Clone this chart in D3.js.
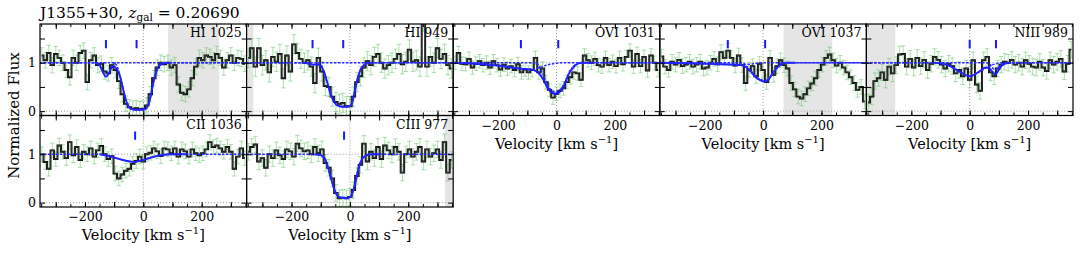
<!DOCTYPE html>
<html>
<head>
<meta charset="utf-8">
<script src="https://cdn.jsdelivr.net/npm/d3@7"></script>
<style>
  body { margin: 0; background: #fff; }
  svg { display: block; font-family: "DejaVu Serif", serif; }
</style>
</head>
<body>
<svg id="chart" width="1080" height="253"></svg>
<script>
// pixel centres of the spectra, km/s
const velocity = [-348,-336,-324,-312,-300,-288,-276,-264,-252,-240,-228,-216,-204,-192,-180,-168,-156,-144,-132,-120,
  -108,-96,-84,-72,-60,-48,-36,-24,-12,0,12,24,36,48,60,72,84,96,108,120,132,144,156,168,180,192,204,216,228,240,
  252,264,276,288,300,312,324,336,348];

const fluxHI1025 = [1.15,1.05,1.2,0.95,1.18,1.1,1.0,0.85,0.7,1.1,1.0,1.2,1.25,0.6,1.05,1.15,0.95,0.98,0.82,0.78,
  0.95,0.85,0.62,0.35,0.15,0.08,0.05,0.06,0.04,0.05,0.12,0.35,0.68,0.9,1.0,0.97,1.0,0.9,0.95,0.55,
  0.38,0.35,0.45,0.68,0.92,1.1,1.05,1.15,1.12,1.05,1.18,1.1,0.9,1.05,1.15,1.0,1.1,1.08,0.98];
const fluxHI949 = [1.1,1.3,0.92,1.3,0.95,1.05,0.8,1.12,1.02,1.18,0.68,1.15,0.82,1.38,1.2,1.08,1.0,1.05,0.92,0.58,
  1.1,0.82,0.52,0.5,0.3,0.19,0.15,0.17,0.1,0.1,0.3,0.6,0.72,0.9,1.03,0.95,1.12,1.18,1.0,0.88,
  0.95,1.0,1.08,1.18,0.97,1.02,1.27,1.02,1.05,0.92,1.85,0.92,1.12,1.0,1.3,1.08,1.18,0.95,0.88];
const fluxOVI1031 = [1.0,1.2,0.98,0.97,1.08,0.9,0.98,1.03,0.95,1.0,0.9,1.03,0.95,0.86,0.96,0.88,0.93,0.85,0.97,0.8,
  0.86,0.8,0.85,1.1,0.8,0.88,0.6,0.44,0.28,0.36,0.42,0.47,0.6,0.7,0.8,0.78,0.65,1.15,1.05,1.0,
  1.08,0.95,0.92,1.1,0.95,1.02,0.93,1.1,0.97,1.12,1.25,0.92,1.18,0.93,1.12,0.84,1.15,1.0,0.85];
const fluxOVI1037 = [1.13,0.92,0.85,1.02,0.96,1.06,0.93,0.96,1.02,0.92,0.96,1.02,0.88,0.9,1.0,1.08,0.97,1.22,1.1,1.25,
  1.1,0.94,1.15,0.95,0.58,0.85,0.93,0.72,0.98,0.85,0.6,1.1,0.75,0.93,1.05,0.95,0.88,0.58,0.45,0.3,
  0.26,0.35,0.47,0.57,0.68,0.85,0.96,1.1,1.17,1.05,0.94,1.0,0.9,0.8,0.7,0.58,0.44,0.5,0.2];
const fluxNIII989 = [0.18,0.3,0.62,0.68,0.8,0.65,0.92,0.78,0.95,1.17,1.18,0.92,1.08,0.9,1.1,0.93,1.06,0.85,0.98,1.12,
  1.06,0.96,0.88,0.98,0.93,0.78,0.85,0.72,0.88,0.65,1.05,0.55,0.42,1.05,1.12,0.8,0.72,0.88,0.96,1.02,
  1.0,1.06,0.96,1.0,0.92,1.05,0.98,0.92,0.9,1.02,0.9,0.83,1.05,0.96,1.02,1.08,0.82,0.98,1.27];
const fluxCII1036 = [1.0,0.84,0.7,1.08,0.9,1.18,1.05,0.92,1.25,0.98,1.15,0.88,1.05,1.0,1.12,0.95,1.08,1.17,1.0,0.9,
  0.96,0.6,0.5,0.58,0.66,0.7,0.8,0.86,0.95,0.85,1.0,1.03,1.12,1.06,0.96,1.12,1.1,1.02,1.12,0.95,
  1.1,1.06,0.95,1.1,1.02,0.98,1.02,1.1,1.25,1.15,1.18,1.12,1.05,1.15,1.05,0.7,0.95,1.12,0.92];
const fluxCIII977 = [1.05,1.15,1.2,0.85,0.92,0.72,1.0,0.92,1.08,0.98,0.9,1.1,1.06,0.95,1.22,1.12,1.06,1.08,1.0,1.15,
  1.02,1.1,0.82,0.72,0.5,0.2,0.09,0.1,0.09,0.12,0.26,0.55,0.78,1.22,0.85,1.05,0.92,1.15,0.9,1.18,
  1.08,1.0,1.15,1.05,0.62,1.0,1.1,0.95,1.05,1.15,0.85,1.1,0.95,1.02,1.1,0.88,1.25,0.62,0.88];

// typical 1-sigma error per spectrum
const errHI1025 = 0.16, errHI949 = 0.2, errOVI1031 = 0.14, errOVI1037 = 0.15,
      errNIII989 = 0.17, errCII1036 = 0.15, errCIII977 = 0.17;

// total fit (solid) and single components (dashed), [velocity, flux]
const modelHI1025 = [[-165,1],[-150,0.95],[-138,0.8],[-128,0.71],[-118,0.78],[-108,0.9],[-100,0.92],[-90,0.86],
  [-78,0.68],[-65,0.35],[-55,0.15],[-45,0.06],[-30,0.03],[-10,0.03],[5,0.04],[15,0.1],[25,0.3],[35,0.6],
  [45,0.82],[55,0.94],[70,0.99],[90,1]];
const compHI1025a = [[-355,1],[-165,1],[-150,0.95],[-138,0.8],[-128,0.72],[-118,0.8],[-106,0.95],[-92,1],[355,1]];
const compHI1025b = [[-355,1],[-100,1],[-88,0.9],[-78,0.7],[-65,0.35],[-55,0.15],[-45,0.06],[-30,0.03],[-10,0.03],
  [5,0.04],[15,0.1],[25,0.3],[35,0.6],[45,0.82],[55,0.94],[70,0.99],[90,1],[355,1]];

const modelHI949 = [[-155,1],[-140,0.98],[-126,0.96],[-112,0.96],[-100,0.93],[-88,0.8],[-78,0.6],[-63,0.3],
  [-48,0.14],[-35,0.1],[-20,0.09],[-8,0.09],[2,0.12],[8,0.18],[17,0.42],[26,0.66],[36,0.85],[48,0.95],[60,0.99],[75,1]];
const compHI949a = [[-355,1],[-160,1],[-140,0.98],[-126,0.96],[-112,0.98],[-95,1],[355,1]];
const compHI949b = [[-355,1],[-110,1],[-98,0.95],[-88,0.8],[-78,0.6],[-63,0.3],[-48,0.14],[-35,0.1],[-20,0.09],
  [-8,0.09],[2,0.12],[8,0.18],[17,0.42],[26,0.66],[36,0.85],[48,0.95],[60,0.99],[75,1],[355,1]];

const modelOVI1031 = [[-355,1],[-300,0.99],[-250,0.97],[-200,0.94],[-150,0.9],[-110,0.87],[-90,0.86],[-75,0.84],
  [-57,0.76],[-45,0.65],[-34,0.52],[-20,0.4],[-5,0.36],[5,0.37],[15,0.43],[25,0.52],[34,0.65],[45,0.8],
  [57,0.9],[70,0.97],[85,1],[120,1]];
const compOVI1031a = [[-355,1],[-300,0.99],[-250,0.97],[-200,0.94],[-150,0.9],[-110,0.87],[-80,0.87],[-60,0.9],
  [-40,0.94],[-20,0.97],[0,0.99],[20,1],[355,1]];
const compOVI1031b = [[-355,1],[-70,1],[-55,0.87],[-45,0.75],[-34,0.58],[-20,0.45],[-5,0.4],[5,0.41],[15,0.46],
  [25,0.56],[34,0.68],[45,0.82],[57,0.92],[70,0.98],[85,1],[355,1]];

const modelOVI1037 = [[-355,1],[-250,0.99],[-150,0.97],[-100,0.96],[-75,0.95],[-55,0.89],[-40,0.8],[-25,0.7],
  [-10,0.64],[5,0.61],[15,0.63],[30,0.75],[45,0.88],[60,0.96],[80,1],[110,1]];
const compOVI1037a = [[-355,1],[-250,0.99],[-150,0.97],[-100,0.96],[-70,0.96],[-45,0.97],[-20,0.99],[10,1],[355,1]];
const compOVI1037b = [[-355,1],[-70,1],[-55,0.92],[-40,0.82],[-25,0.72],[-10,0.66],[5,0.63],[15,0.65],[30,0.76],
  [45,0.88],[60,0.96],[80,1],[355,1]];

const modelNIII989 = [[-120,1],[-100,0.99],[-75,0.95],[-50,0.87],[-25,0.78],[0,0.72],[15,0.75],[35,0.83],[55,0.9],
  [68,0.88],[80,0.8],[88,0.76],[98,0.84],[110,0.94],[125,0.99],[140,1]];
const compNIII989a = [[-355,1],[-120,1],[-100,0.99],[-75,0.95],[-50,0.87],[-25,0.78],[0,0.72],[25,0.78],[50,0.87],
  [75,0.95],[100,0.99],[120,1],[355,1]];
const compNIII989b = [[-355,1],[55,1],[70,0.96],[80,0.88],[88,0.85],[98,0.9],[110,0.97],[125,1],[355,1]];

const modelCII1036 = [[-150,1],[-130,0.98],[-100,0.93],[-70,0.88],[-45,0.85],[-30,0.84],[-15,0.86],[0,0.88],
  [20,0.92],[45,0.96],[70,0.99],[100,1],[150,1]];
const compCII1036a = [[-355,1],[-160,1],[-130,0.98],[-100,0.93],[-70,0.88],[-45,0.85],[-30,0.84],[-15,0.86],
  [0,0.88],[20,0.92],[45,0.96],[70,0.99],[100,1],[355,1]];

const modelCIII977 = [[-120,1],[-100,0.98],[-85,0.9],[-70,0.62],[-55,0.3],[-42,0.14],[-30,0.1],[-10,0.09],[2,0.12],
  [10,0.22],[20,0.45],[30,0.72],[42,0.9],[55,0.97],[75,1],[105,1]];
const compCIII977a = [[-355,1],[-120,1],[-100,0.98],[-85,0.9],[-70,0.62],[-55,0.3],[-42,0.14],[-30,0.1],[-10,0.09],
  [2,0.12],[10,0.22],[20,0.45],[30,0.72],[42,0.9],[55,0.97],[75,1],[355,1]];

// component centroids (blue ticks) and masked (grey) windows
const marksHI1025 = [-128, -23], marksHI949 = [-128, -23], marksOVI1031 = [-122, 6], marksOVI1037 = [-121, 7];
const marksNIII989 = [0, 90], marksCII1036 = [-28], marksCIII977 = [-20];
const maskHI1025 = [[85, 260]], maskHI949 = [[-360, -331]], maskOVI1037 = [[70, 237]];
const maskNIII989 = [[-360, -255]], maskCIII977 = [[326, 360]];

const xTickLabels = [-200, 0, 200];
const yTickLabels = [0, 1];

const panels = [
  { name: 'HI 1025', flux: fluxHI1025, err: errHI1025, model: modelHI1025, comps: [compHI1025a, compHI1025b], marks: marksHI1025, mask: maskHI1025, row: 0, col: 0 },
  { name: 'HI 949', flux: fluxHI949, err: errHI949, model: modelHI949, comps: [compHI949a, compHI949b], marks: marksHI949, mask: maskHI949, row: 0, col: 1 },
  { name: 'OVI 1031', flux: fluxOVI1031, err: errOVI1031, model: modelOVI1031, comps: [compOVI1031a, compOVI1031b], marks: marksOVI1031, mask: [], row: 0, col: 2 },
  { name: 'OVI 1037', flux: fluxOVI1037, err: errOVI1037, model: modelOVI1037, comps: [compOVI1037a, compOVI1037b], marks: marksOVI1037, mask: maskOVI1037, row: 0, col: 3 },
  { name: 'NIII 989', flux: fluxNIII989, err: errNIII989, model: modelNIII989, comps: [compNIII989a, compNIII989b], marks: marksNIII989, mask: maskNIII989, row: 0, col: 4 },
  { name: 'CII 1036', flux: fluxCII1036, err: errCII1036, model: modelCII1036, comps: [compCII1036a], marks: marksCII1036, mask: [], row: 1, col: 0 },
  { name: 'CIII 977', flux: fluxCIII977, err: errCIII977, model: modelCIII977, comps: [compCIII977a], marks: marksCIII977, mask: maskCIII977, row: 1, col: 1 }
];

const X0 = 40, Y0 = 24, W = 206.6, H = 91.5;
const FONT = '"DejaVu Serif", serif';
const svg = d3.select('#chart');

const x = d3.scaleLinear().domain([-354, 354]).range([0, W]);
const y = d3.scaleLinear().domain([-0.09, 1.8]).range([H, 0]);

const stepLine = d3.line().x((d, i) => x(velocity[i])).y(d => y(d)).curve(d3.curveStep);
const modelLine = d3.line().x(d => x(d[0])).y(d => y(d[1])).curve(d3.curveMonotoneX);

function velocityLabel(g, cx, yb) {
  const t = g.append('text').attr('x', cx).attr('y', yb).attr('text-anchor', 'middle').attr('font-size', 14.5);
  t.append('tspan').text('Velocity [km s');
  t.append('tspan').attr('dy', -6).attr('font-size', 10).text('\u22121');
  t.append('tspan').attr('dy', 6).text(']');
}

panels.forEach((p, k) => {
  const g = svg.append('g').attr('transform', `translate(${X0 + p.col * W},${Y0 + p.row * H})`);
  g.append('clipPath').attr('id', 'clip' + k).append('rect').attr('width', W).attr('height', H);
  const body = g.append('g').attr('clip-path', `url(#clip${k})`);

  body.selectAll('rect.mask').data(p.mask).enter().append('rect')
    .attr('x', d => x(d[0])).attr('width', d => x(d[1]) - x(d[0]))
    .attr('y', 0).attr('height', H).attr('fill', '#e5e5e5');

  // reference levels
  body.selectAll('line.ref').data([0, 1]).enter().append('line')
    .attr('x1', 0).attr('x2', W).attr('y1', d => y(d)).attr('y2', d => y(d))
    .attr('stroke', '#999').attr('stroke-width', 1).attr('stroke-dasharray', '1,2');
  body.append('line').attr('x1', x(0)).attr('x2', x(0)).attr('y1', 0).attr('y2', H)
    .attr('stroke', '#999').attr('stroke-width', 1).attr('stroke-dasharray', '1,2');

  // error bars
  const eb = body.append('g').attr('stroke', '#6cc46c').attr('stroke-opacity', 0.55).attr('stroke-width', 1);
  p.flux.forEach((f, i) => {
    const cx = x(velocity[i]), y1 = y(f - p.err), y2 = y(f + p.err);
    eb.append('line').attr('x1', cx).attr('x2', cx).attr('y1', y1).attr('y2', y2);
    eb.append('line').attr('x1', cx - 2.2).attr('x2', cx + 2.2).attr('y1', y1).attr('y2', y1);
    eb.append('line').attr('x1', cx - 2.2).attr('x2', cx + 2.2).attr('y1', y2).attr('y2', y2);
  });

  // data
  body.append('path').attr('d', stepLine(p.flux)).attr('fill', 'none')
    .attr('stroke', '#000').attr('stroke-width', 1.9);
  body.append('path').attr('d', stepLine(p.flux)).attr('fill', 'none')
    .attr('stroke', '#555').attr('stroke-width', 0.6);

  // fit
  body.append('path').attr('d', modelLine(p.model)).attr('fill', 'none')
    .attr('stroke', '#1a1aff').attr('stroke-width', 1.9);
  p.comps.forEach(c => {
    body.append('path').attr('d', modelLine(c)).attr('fill', 'none')
      .attr('stroke', '#2a2aff').attr('stroke-width', 1.5).attr('stroke-dasharray', '2.5,1.5');
  });

  body.selectAll('line.mark').data(p.marks).enter().append('line')
    .attr('x1', d => x(d)).attr('x2', d => x(d)).attr('y1', y(1.3)).attr('y2', y(1.47))
    .attr('stroke', '#1a1aff').attr('stroke-width', 2);

  // axes, ticks pointing inwards
  const showX = p.row === 1 || p.col >= 2;
  const showY = p.col === 0;
  const fmt = d => (showX && xTickLabels.includes(d)) ? d3.format('d')(d) : '';
  const styleAxis = a => {
    a.select('.domain').remove();
    a.selectAll('text').attr('font-family', FONT).attr('font-size', 12.5).attr('fill', '#000');
    a.selectAll('line').attr('stroke', '#000');
  };
  g.append('g').attr('transform', `translate(0,${H})`)
    .call(d3.axisBottom(x).tickValues(d3.range(-350, 351, 50)).tickSize(-3).tickFormat(''))
    .call(styleAxis);
  g.append('g').attr('transform', `translate(0,${H})`)
    .call(d3.axisBottom(x).tickValues([-300, -200, -100, 0, 100, 200, 300]).tickSize(-5).tickPadding(5.5).tickFormat(fmt))
    .call(styleAxis);
  g.append('g')
    .call(d3.axisTop(x).tickValues(d3.range(-350, 351, 50)).tickSize(-3).tickFormat(''))
    .call(styleAxis);
  g.append('g')
    .call(d3.axisTop(x).tickValues([-300, -200, -100, 0, 100, 200, 300]).tickSize(-5).tickFormat(''))
    .call(styleAxis);
  g.append('g')
    .call(d3.axisLeft(y).tickValues([0, 0.5, 1, 1.5]).tickSize(-5).tickPadding(4)
      .tickFormat(d => (showY && yTickLabels.includes(d)) ? d : ''))
    .call(styleAxis);
  g.append('g').attr('transform', `translate(${W},0)`)
    .call(d3.axisRight(y).tickValues([0, 0.5, 1, 1.5]).tickSize(-5).tickFormat(''))
    .call(styleAxis);

  g.append('rect').attr('width', W).attr('height', H).attr('fill', 'none')
    .attr('stroke', '#000').attr('stroke-width', 1.2);

  g.append('text').attr('x', W - 5).attr('y', 13).attr('text-anchor', 'end')
    .attr('font-size', 12.5).text(p.name);

  if (showX) velocityLabel(g, W / 2, H + 33);
});

// title
const title = svg.append('text').attr('x', 40).attr('y', 18).attr('font-size', 15.5);
title.append('tspan').text('J1355+30, ');
title.append('tspan').attr('font-style', 'italic').text('z');
title.append('tspan').attr('dy', 3).attr('font-size', 10.5).text('gal');
title.append('tspan').attr('dy', -3).text(' = 0.20690');

svg.append('text').attr('transform', `translate(19,${Y0 + H}) rotate(-90)`)
  .attr('text-anchor', 'middle').attr('font-size', 15).text('Normalized Flux');
</script>
</body>
</html>
